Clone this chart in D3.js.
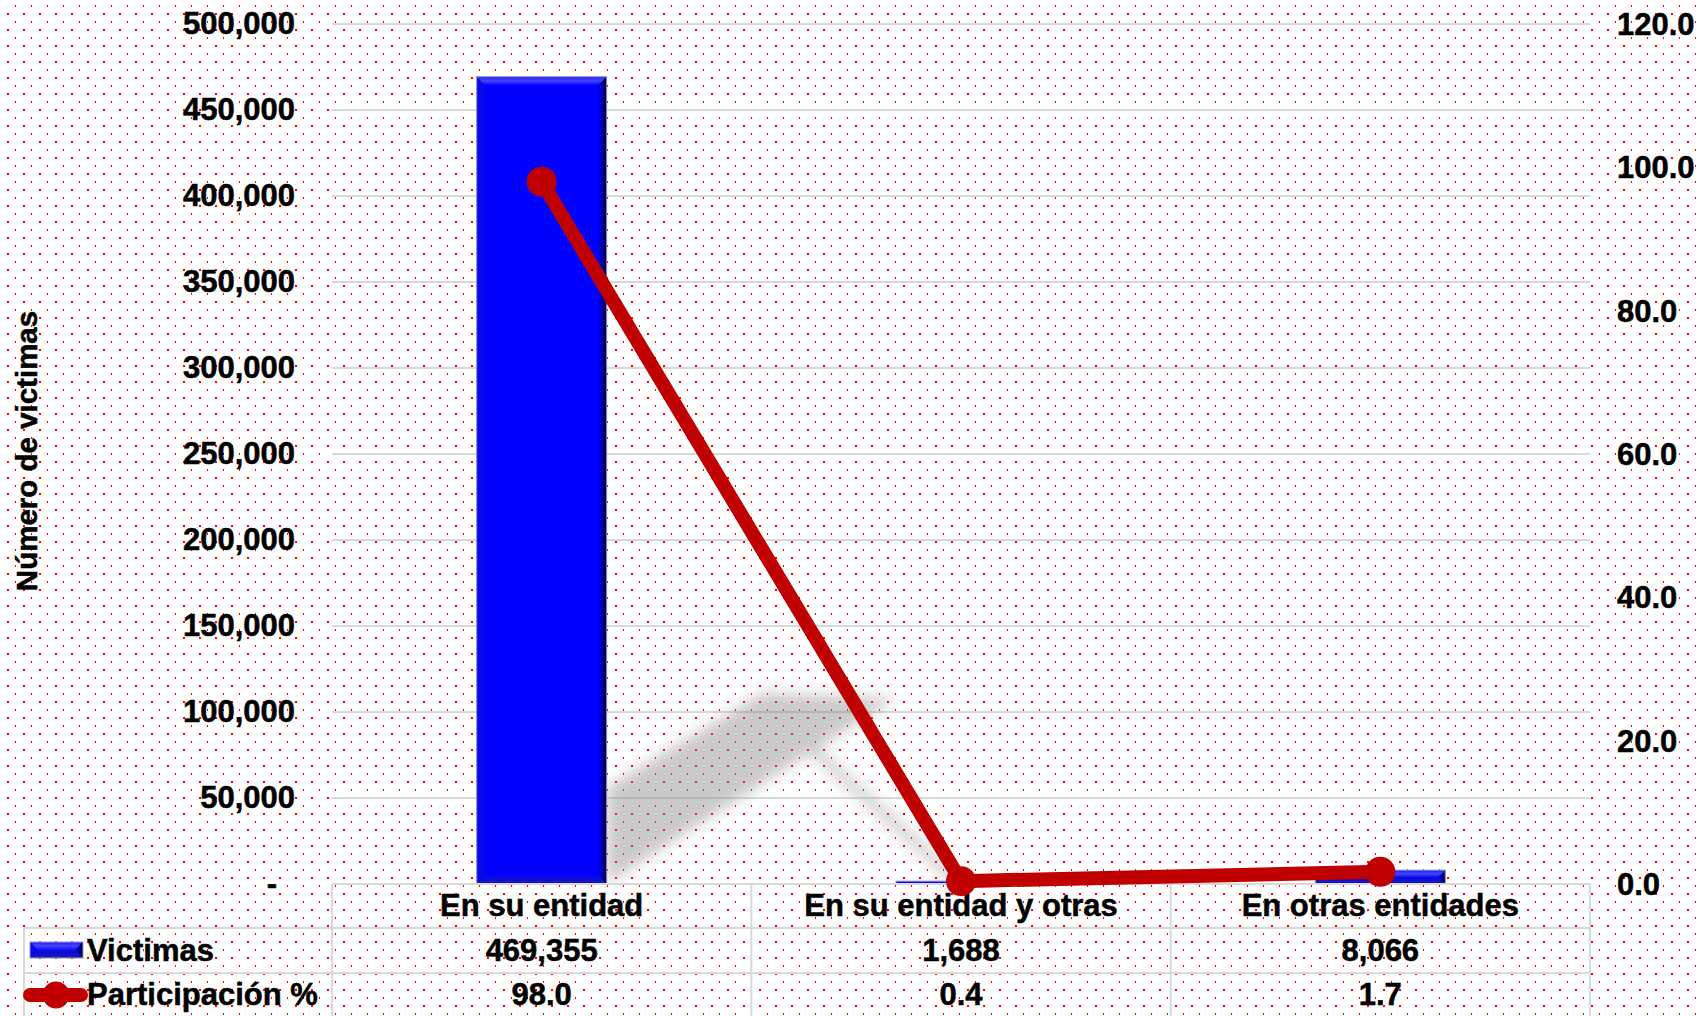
<!DOCTYPE html>
<html>
<head>
<meta charset="utf-8">
<script src="https://cdn.jsdelivr.net/npm/d3@7/dist/d3.min.js"></script>
<style>
  html, body { margin: 0; padding: 0; background: #fff; }
  svg { display: block; }
  text { font-family: "Liberation Sans", Arial, sans-serif; font-weight: bold; fill: #000; stroke: #000; stroke-width: 0.5px; }
</style>
</head>
<body>
<svg id="chart" width="1701" height="1016"></svg>
<script>
// ---- data ----
const categories = ["En su entidad", "En su entidad y otras", "En otras entidades"];
const victimas = [469355, 1688, 8066];
const participacion = [98.0, 0.4, 1.7];
const leftTicks = [0, 50000, 100000, 150000, 200000, 250000, 300000, 350000, 400000, 450000, 500000];
const rightTicks = [0, 20, 40, 60, 80, 100, 120];
const seriesNames = ["Victimas", "Participación %"];
const yTitle = "Número de victimas";

// ---- layout ----
const W = 1701, H = 1016;
const plotL = 332, plotR = 1590, plotT = 24, plotB = 884;
const FS = 31;

const svg = d3.select("#chart");
const defs = svg.append("defs");

// dotted background pattern
const pat = defs.append("pattern").attr("id", "dots").attr("patternUnits", "userSpaceOnUse")
  .attr("width", 16).attr("height", 16);
pat.append("rect").attr("width", 16).attr("height", 16).attr("fill", "#fff");
pat.append("rect").attr("x", 15).attr("y", 5).attr("width", 2).attr("height", 2).attr("fill", "#ff0000");
pat.append("rect").attr("x", 7).attr("y", 13).attr("width", 2).attr("height", 2).attr("fill", "#ff0000");

// gradients for bar bevel
const gRight = defs.append("linearGradient").attr("id", "gRight").attr("x1", 0).attr("x2", 1).attr("y1", 0).attr("y2", 0);
gRight.append("stop").attr("offset", "0%").attr("stop-color", "#0000f0");
gRight.append("stop").attr("offset", "100%").attr("stop-color", "#000040");
const gTop = defs.append("linearGradient").attr("id", "gTop").attr("x1", 0).attr("x2", 0).attr("y1", 0).attr("y2", 1);
gTop.append("stop").attr("offset", "0%").attr("stop-color", "#1a1aff");
gTop.append("stop").attr("offset", "50%").attr("stop-color", "#4545ff");
gTop.append("stop").attr("offset", "100%").attr("stop-color", "#1010ff");
const gBot = defs.append("linearGradient").attr("id", "gBot").attr("x1", 0).attr("x2", 0).attr("y1", 0).attr("y2", 1);
gBot.append("stop").attr("offset", "0%").attr("stop-color", "#0808f0");
gBot.append("stop").attr("offset", "100%").attr("stop-color", "#1a1aa8");

const blur = defs.append("filter").attr("id", "blur").attr("x", "-20%").attr("y", "-20%").attr("width", "140%").attr("height", "140%");
blur.append("feGaussianBlur").attr("stdDeviation", 7);

svg.append("rect").attr("width", W).attr("height", H).attr("fill", "url(#dots)");

// ---- scales ----
const x = d3.scaleBand().domain(categories).range([plotL, plotR]).padding(0);
const yL = d3.scaleLinear().domain([0, 500000]).range([plotB, plotT]);
const yR = d3.scaleLinear().domain([0, 120]).range([plotB, plotT]);
const barW = x.bandwidth() * 0.31;
const cx = c => x(c) + x.bandwidth() / 2;

// gridlines
svg.append("g").selectAll("line").data(leftTicks.filter(t => t > 0)).join("line")
  .attr("x1", plotL).attr("x2", plotR)
  .attr("y1", d => yL(d)).attr("y2", d => yL(d))
  .attr("stroke", "#d9d9d9").attr("stroke-width", 2);

// left axis labels
const fmtL = d3.format(",");
svg.append("g").selectAll("text").data(leftTicks).join("text")
  .attr("x", d => d === 0 ? 277 : 295)
  .attr("y", d => yL(d) + 10)
  .attr("text-anchor", "end")
  .attr("font-size", FS)
  .text(d => d === 0 ? "-" : fmtL(d));

// right axis labels
const fmtR = d3.format(".1f");
svg.append("g").selectAll("text").data(rightTicks).join("text")
  .attr("x", 1617)
  .attr("y", d => yR(d) + 11)
  .attr("text-anchor", "start")
  .attr("font-size", FS)
  .text(d => fmtR(d));

// y-axis title
svg.append("text")
  .attr("transform", "translate(37,451) rotate(-90)")
  .attr("text-anchor", "middle")
  .attr("font-size", 29.5)
  .text(yTitle);

// ---- shadows (decorative, derived from first bar and line points) ----
const b0x1 = cx(categories[0]) + barW / 2;
const sh = svg.append("g").attr("filter", "url(#blur)").attr("opacity", 0.45);
sh.append("polygon")
  .attr("points", [
    [b0x1, plotB - 97], [b0x1 + 156, plotB - 191], [b0x1 + 290, plotB - 186],
    [b0x1 + 193, plotB - 124], [b0x1, plotB]
  ].map(p => p.join(",")).join(" "))
  .attr("fill", "#8a8a8a");
sh.append("line")
  .attr("x1", b0x1 + 200).attr("y1", plotB - 140)
  .attr("x2", cx(categories[1])).attr("y2", plotB)
  .attr("stroke", "#8a8a8a").attr("stroke-width", 10);

// ---- bars ----
function drawBar(g, x0, x1, y0, y1) {
  const h = y1 - y0;
  const b = Math.min(8, h / 2, (x1 - x0) / 2);
  g.append("rect").attr("x", x0).attr("y", y0).attr("width", x1 - x0).attr("height", h).attr("fill", "#0000ff");
  const poly = (pts, fill) => g.append("polygon").attr("points", pts.map(p => p.join(",")).join(" ")).attr("fill", fill);
  poly([[x0, y0], [x0 + b, y0 + b], [x0 + b, y1 - b], [x0, y1]], "#0808e8");
  poly([[x0, y0], [x1, y0], [x1 - b, y0 + b], [x0 + b, y0 + b]], "url(#gTop)");
  poly([[x0, y1], [x1, y1], [x1 - b, y1 - b], [x0 + b, y1 - b]], "url(#gBot)");
  poly([[x1, y0], [x1, y1], [x1 - b, y1 - b], [x1 - b, y0 + b]], "url(#gRight)");
  g.append("rect").attr("x", x0).attr("y", y0).attr("width", x1 - x0).attr("height", h)
    .attr("fill", "none").attr("stroke", "#9a9ab8").attr("stroke-width", 1);
}
const barsG = svg.append("g");
categories.forEach((c, i) => {
  const g = barsG.append("g");
  drawBar(g, cx(c) - barW / 2, cx(c) + barW / 2, yL(victimas[i]), yL(0));
});

// ---- table ----
const tbl = svg.append("g").attr("stroke", "#d9d9d9").attr("stroke-width", 2);
const rowTop = [plotB, 928, 973, 1018];
tbl.append("line").attr("x1", plotL).attr("x2", plotR).attr("y1", rowTop[0]).attr("y2", rowTop[0]);
tbl.append("line").attr("x1", 24).attr("x2", plotR).attr("y1", rowTop[1]).attr("y2", rowTop[1]);
tbl.append("line").attr("x1", 24).attr("x2", plotR).attr("y1", rowTop[2]).attr("y2", rowTop[2]);
tbl.append("line").attr("x1", 24).attr("x2", 24).attr("y1", rowTop[1]).attr("y2", H);
const vlines = categories.map(c => x(c)).concat([plotR]);
tbl.selectAll("line.v").data(vlines).join("line").attr("class", "v")
  .attr("x1", d => d).attr("x2", d => d).attr("y1", rowTop[0]).attr("y2", H);

// category headers
svg.append("g").selectAll("text").data(categories).join("text")
  .attr("x", d => cx(d)).attr("y", 916).attr("text-anchor", "middle").attr("font-size", FS).text(d => d);
// values
svg.append("g").selectAll("text").data(victimas).join("text")
  .attr("x", (d, i) => cx(categories[i])).attr("y", 961).attr("text-anchor", "middle").attr("font-size", FS).text(d => fmtL(d));
svg.append("g").selectAll("text").data(participacion).join("text")
  .attr("x", (d, i) => cx(categories[i])).attr("y", 1005).attr("text-anchor", "middle").attr("font-size", FS).text(d => fmtR(d));

// legend keys
const kb = svg.append("g");
drawBar(kb, 30, 83, 942, 958);
svg.append("text").attr("x", 87).attr("y", 961).attr("font-size", FS).text(seriesNames[0]);
svg.append("line").attr("x1", 30).attr("x2", 81).attr("y1", 995).attr("y2", 995)
  .attr("stroke", "#c00000").attr("stroke-width", 14).attr("stroke-linecap", "round");
svg.append("circle").attr("cx", 56).attr("cy", 995).attr("r", 13.5).attr("fill", "#c00000");
svg.append("text").attr("x", 87).attr("y", 1005).attr("font-size", FS).text(seriesNames[1]);

// ---- line series ----
const pts = categories.map((c, i) => [cx(c), yR(participacion[i])]);
svg.append("path").attr("d", d3.line()(pts))
  .attr("fill", "none").attr("stroke", "#c00000").attr("stroke-width", 14).attr("stroke-linejoin", "round");
svg.append("g").selectAll("circle").data(pts).join("circle")
  .attr("cx", d => d[0]).attr("cy", d => d[1]).attr("r", 15).attr("fill", "#c00000");
</script>
</body>
</html>
